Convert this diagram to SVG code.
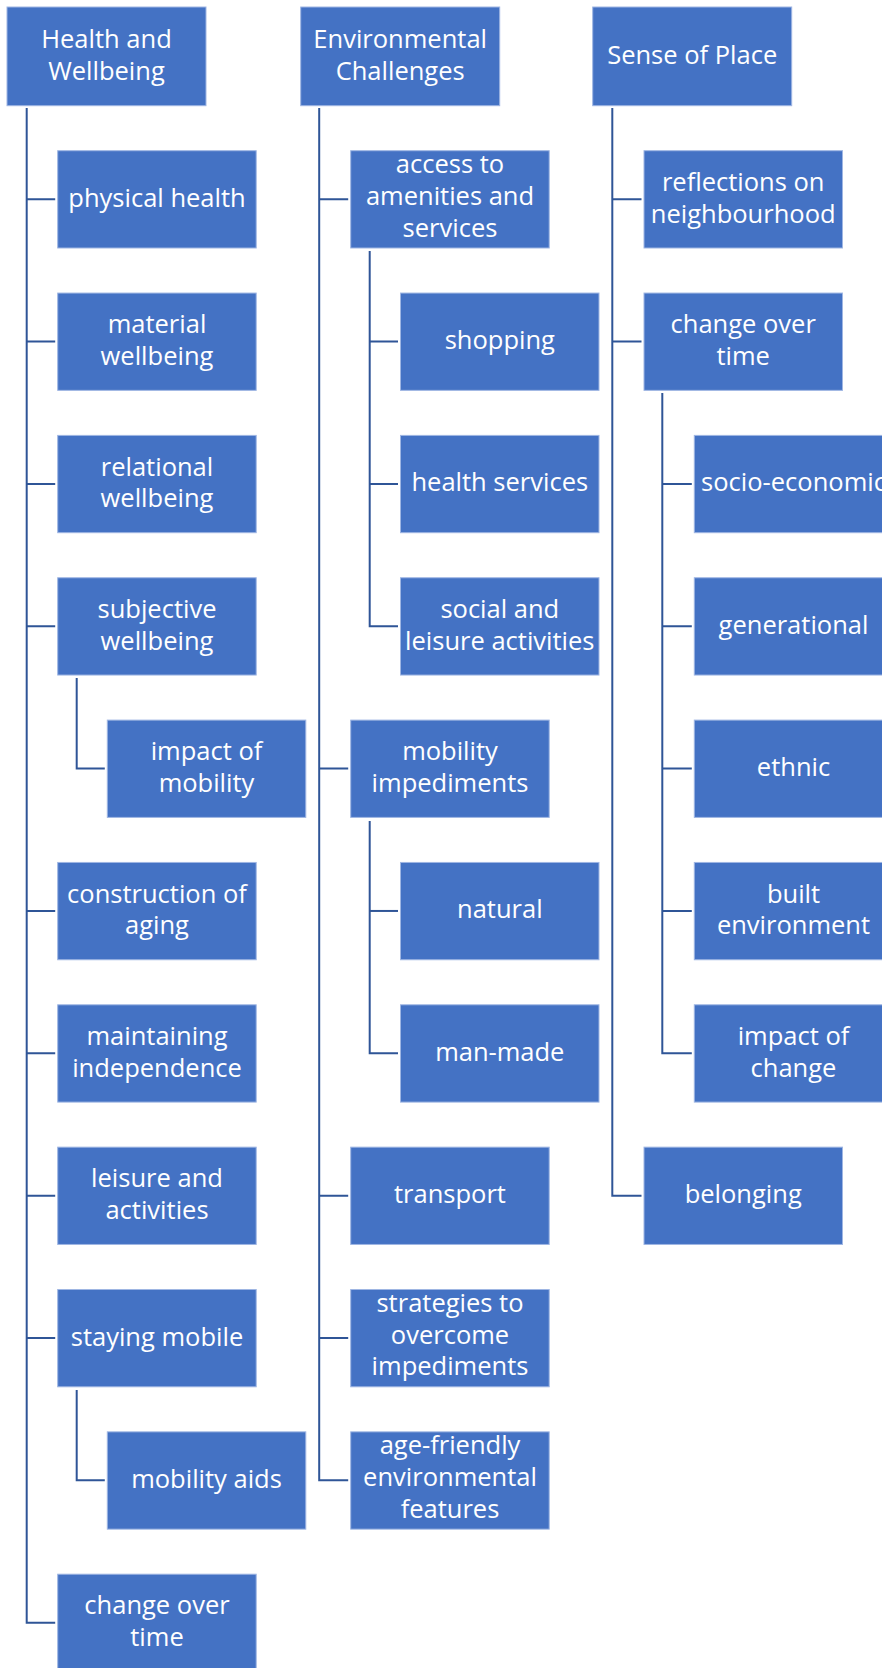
<svg xmlns="http://www.w3.org/2000/svg" width="882" height="1668" viewBox="0 0 882 1668">
<style>
rect.b{fill:#4472c4;stroke:#9fb6e3;stroke-width:1}
text{fill:#ffffff;font-family:"Open Sans","Noto Sans",sans-serif;font-size:25.5px;text-anchor:middle}
.c path{fill:none;stroke:#2f5597;stroke-width:2}
</style>
<rect width="882" height="1668" fill="#ffffff"/>
<g class="c" id="connectors">
<!-- column 1 -->
<path d="M26.7,108 V1622.7 H55.2"/>
<path d="M26.7,199.2 H55.2 M26.7,341.55 H55.2 M26.7,483.9 H55.2 M26.7,626.25 H55.2 M26.7,910.95 H55.2 M26.7,1053.3 H55.2 M26.7,1195.65 H55.2 M26.7,1338 H55.2"/>
<path d="M76.7,678 V768.6 H104.8"/>
<path d="M76.7,1390 V1480.35 H104.8"/>
<!-- column 2 -->
<path d="M319.2,108 V1480.35 H348.2"/>
<path d="M319.2,199.2 H348.2 M319.2,768.6 H348.2 M319.2,1195.65 H348.2 M319.2,1338 H348.2"/>
<path d="M369.7,251 V626.25 H398"/>
<path d="M369.7,341.55 H398 M369.7,483.9 H398"/>
<path d="M369.7,821 V1053.3 H398"/>
<path d="M369.7,910.95 H398"/>
<!-- column 3 -->
<path d="M612.3,108 V1195.65 H641.5"/>
<path d="M612.3,199.2 H641.5 M612.3,341.55 H641.5"/>
<path d="M662.3,393 V1053.3 H691.8"/>
<path d="M662.3,483.9 H691.8 M662.3,626.25 H691.8 M662.3,768.6 H691.8 M662.3,910.95 H691.8"/>
</g>

<!-- Column 1 -->
<g id="health-and-wellbeing"><rect class="b" x="7" y="7" width="199" height="98.7"/><text x="106.5" y="48.3">Health and</text><text x="106.5" y="80">Wellbeing</text></g>
<g id="physical-health"><rect class="b" x="57.7" y="150.7" width="198.5" height="97.3"/><text x="157" y="206.7">physical health</text></g>
<g id="material-wellbeing"><rect class="b" x="57.7" y="293.05" width="198.5" height="97.3"/><text x="157" y="333.2">material</text><text x="157" y="364.9">wellbeing</text></g>
<g id="relational-wellbeing"><rect class="b" x="57.7" y="435.4" width="198.5" height="97.3"/><text x="157" y="475.6">relational</text><text x="157" y="507.3">wellbeing</text></g>
<g id="subjective-wellbeing"><rect class="b" x="57.7" y="577.75" width="198.5" height="97.3"/><text x="157" y="617.9">subjective</text><text x="157" y="649.6">wellbeing</text></g>
<g id="impact-of-mobility"><rect class="b" x="107.3" y="720.1" width="198.5" height="97.3"/><text x="206.5" y="760.3">impact of</text><text x="206.5" y="792">mobility</text></g>
<g id="construction-of-aging"><rect class="b" x="57.7" y="862.45" width="198.5" height="97.3"/><text x="157" y="902.6">construction of</text><text x="157" y="934.3">aging</text></g>
<g id="maintaining-independence"><rect class="b" x="57.7" y="1004.8" width="198.5" height="97.3"/><text x="157" y="1045">maintaining</text><text x="157" y="1076.7">independence</text></g>
<g id="leisure-and-activities"><rect class="b" x="57.7" y="1147.15" width="198.5" height="97.3"/><text x="157" y="1187.3">leisure and</text><text x="157" y="1219">activities</text></g>
<g id="staying-mobile"><rect class="b" x="57.7" y="1289.5" width="198.5" height="97.3"/><text x="157" y="1345.5">staying mobile</text></g>
<g id="mobility-aids"><rect class="b" x="107.3" y="1431.85" width="198.5" height="97.3"/><text x="206.5" y="1487.8">mobility aids</text></g>
<g id="change-over-time-1"><rect class="b" x="57.7" y="1574.2" width="198.5" height="97.3"/><text x="157" y="1614.4">change over</text><text x="157" y="1646.1">time</text></g>

<!-- Column 2 -->
<g id="environmental-challenges"><rect class="b" x="300.7" y="7" width="199" height="98.7"/><text x="400.2" y="48.3">Environmental</text><text x="400.2" y="80">Challenges</text></g>
<g id="access-to-amenities"><rect class="b" x="350.7" y="150.7" width="198.5" height="97.3"/><text x="450" y="173.3">access to</text><text x="450" y="205">amenities and</text><text x="450" y="236.7">services</text></g>
<g id="shopping"><rect class="b" x="400.5" y="293.05" width="198.5" height="97.3"/><text x="499.8" y="349">shopping</text></g>
<g id="health-services"><rect class="b" x="400.5" y="435.4" width="198.5" height="97.3"/><text x="499.8" y="491.4">health services</text></g>
<g id="social-and-leisure"><rect class="b" x="400.5" y="577.75" width="198.5" height="97.3"/><text x="499.8" y="617.9">social and</text><text x="499.8" y="649.6">leisure activities</text></g>
<g id="mobility-impediments"><rect class="b" x="350.7" y="720.1" width="198.5" height="97.3"/><text x="450" y="760.3">mobility</text><text x="450" y="792">impediments</text></g>
<g id="natural"><rect class="b" x="400.5" y="862.45" width="198.5" height="97.3"/><text x="499.8" y="918.4">natural</text></g>
<g id="man-made"><rect class="b" x="400.5" y="1004.8" width="198.5" height="97.3"/><text x="499.8" y="1060.8">man-made</text></g>
<g id="transport"><rect class="b" x="350.7" y="1147.15" width="198.5" height="97.3"/><text x="450" y="1203.1">transport</text></g>
<g id="strategies"><rect class="b" x="350.7" y="1289.5" width="198.5" height="97.3"/><text x="450" y="1312">strategies to</text><text x="450" y="1343.7">overcome</text><text x="450" y="1375.4">impediments</text></g>
<g id="age-friendly"><rect class="b" x="350.7" y="1431.85" width="198.5" height="97.3"/><text x="450" y="1454.4">age-friendly</text><text x="450" y="1486.1">environmental</text><text x="450" y="1517.8">features</text></g>

<!-- Column 3 -->
<g id="sense-of-place"><rect class="b" x="592.7" y="7" width="199" height="98.7"/><text x="692.2" y="64">Sense of Place</text></g>
<g id="reflections"><rect class="b" x="644" y="150.7" width="198.5" height="97.3"/><text x="743.2" y="190.9">reflections on</text><text x="743.2" y="222.6">neighbourhood</text></g>
<g id="change-over-time-3"><rect class="b" x="644" y="293.05" width="198.5" height="97.3"/><text x="743.2" y="333.2">change over</text><text x="743.2" y="364.9">time</text></g>
<g id="socio-economic"><rect class="b" x="694.3" y="435.4" width="198.5" height="97.3"/><text x="793.5" y="491.4">socio-economic</text></g>
<g id="generational"><rect class="b" x="694.3" y="577.75" width="198.5" height="97.3"/><text x="793.5" y="633.7">generational</text></g>
<g id="ethnic"><rect class="b" x="694.3" y="720.1" width="198.5" height="97.3"/><text x="793.5" y="776.1">ethnic</text></g>
<g id="built-environment"><rect class="b" x="694.3" y="862.45" width="198.5" height="97.3"/><text x="793.5" y="902.6">built</text><text x="793.5" y="934.3">environment</text></g>
<g id="impact-of-change"><rect class="b" x="694.3" y="1004.8" width="198.5" height="97.3"/><text x="793.5" y="1045">impact of</text><text x="793.5" y="1076.7">change</text></g>
<g id="belonging"><rect class="b" x="644" y="1147.15" width="198.5" height="97.3"/><text x="743.2" y="1203.1">belonging</text></g>
</svg>
